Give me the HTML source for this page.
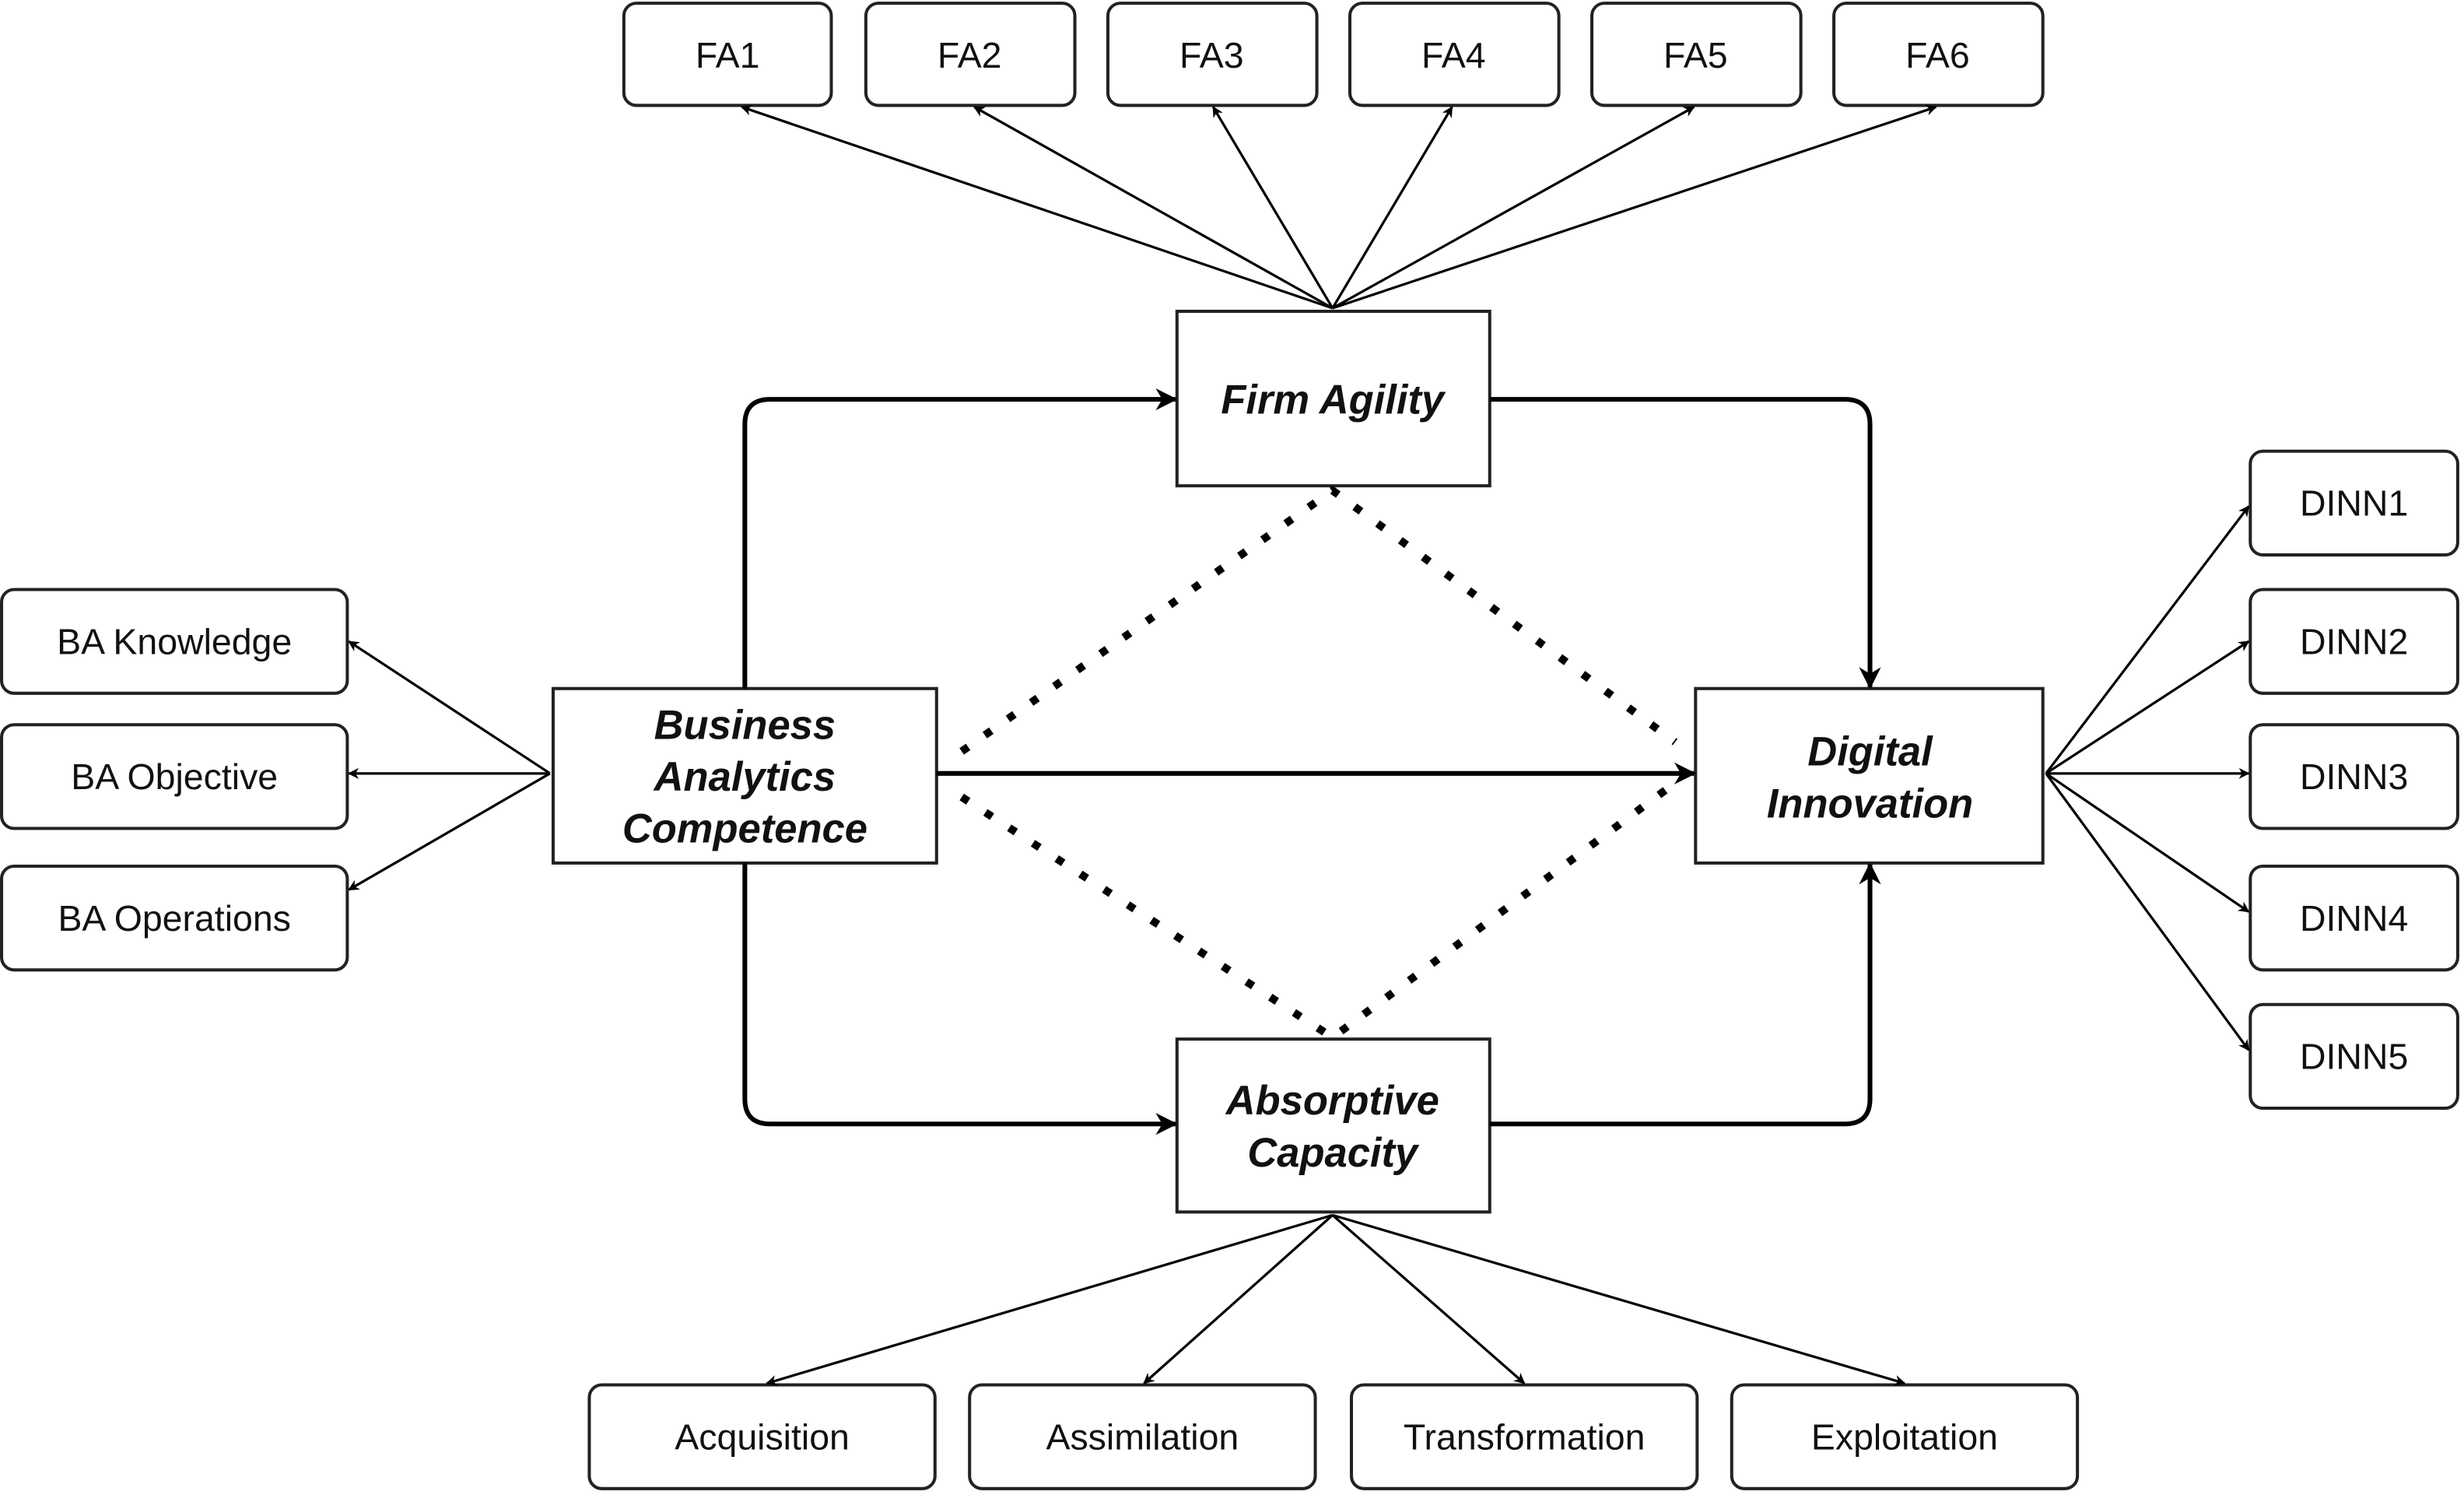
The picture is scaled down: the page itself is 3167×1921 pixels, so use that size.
<!DOCTYPE html>
<html><head><meta charset="utf-8"><style>
html,body{margin:0;padding:0;background:#fff;}
svg{display:block;}
text{font-family:"Liberation Sans",Arial,sans-serif;fill:#111;}
</style></head><body>
<svg width="3167" height="1921" viewBox="0 0 1568 951" xmlns="http://www.w3.org/2000/svg">
<defs>
<marker id="a" viewBox="0 0 10 10" refX="9" refY="5" markerWidth="7" markerHeight="7" orient="auto" markerUnits="userSpaceOnUse"><path d="M0,0 L10,5 L0,10 L3,5z" fill="#000"/></marker>
<marker id="b" viewBox="0 0 10 10" refX="9" refY="5" markerWidth="14" markerHeight="14" orient="auto" markerUnits="userSpaceOnUse"><path d="M0,0 L10,5 L0,10 L3,5z" fill="#000"/></marker>
</defs>
<g fill="#fff" stroke="#222" stroke-width="2">
<rect x="397" y="2" width="132" height="65" rx="8"/>
<rect x="551" y="2" width="133" height="65" rx="8"/>
<rect x="705" y="2" width="133" height="65" rx="8"/>
<rect x="859" y="2" width="133" height="65" rx="8"/>
<rect x="1013" y="2" width="133" height="65" rx="8"/>
<rect x="1167" y="2" width="133" height="65" rx="8"/>
<rect x="1" y="375" width="220" height="66" rx="8"/>
<rect x="1" y="461" width="220" height="66" rx="8"/>
<rect x="1" y="551" width="220" height="66" rx="8"/>
<rect x="1432" y="287" width="132" height="66" rx="8"/>
<rect x="1432" y="375" width="132" height="66" rx="8"/>
<rect x="1432" y="461" width="132" height="66" rx="8"/>
<rect x="1432" y="551" width="132" height="66" rx="8"/>
<rect x="1432" y="639" width="132" height="66" rx="8"/>
<rect x="375" y="881" width="220" height="66" rx="8"/>
<rect x="617" y="881" width="220" height="66" rx="8"/>
<rect x="860" y="881" width="220" height="66" rx="8"/>
<rect x="1102" y="881" width="220" height="66" rx="8"/>
<rect x="749" y="198" width="199" height="111" rx="0"/>
<rect x="352" y="438" width="244" height="111"/>
<rect x="1079" y="438" width="221" height="111"/>
<rect x="749" y="661" width="199" height="110"/>
</g>
<g stroke="#000" stroke-width="1.6" fill="none" marker-end="url(#a)">
<line x1="848" y1="196" x2="472" y2="68"/>
<line x1="848" y1="196" x2="620" y2="68"/>
<line x1="848" y1="196" x2="772" y2="68"/>
<line x1="848" y1="196" x2="924" y2="68"/>
<line x1="848" y1="196" x2="1078" y2="68"/>
<line x1="848" y1="196" x2="1232" y2="68"/>
<line x1="350" y1="492" x2="222" y2="408"/>
<line x1="350" y1="492" x2="222" y2="492"/>
<line x1="350" y1="492" x2="222" y2="566"/>
<line x1="1302" y1="492" x2="1431" y2="322"/>
<line x1="1302" y1="492" x2="1431" y2="408"/>
<line x1="1302" y1="492" x2="1431" y2="492"/>
<line x1="1302" y1="492" x2="1431" y2="580"/>
<line x1="1302" y1="492" x2="1431" y2="668"/>
<line x1="848" y1="773" x2="488" y2="880"/>
<line x1="848" y1="773" x2="728" y2="880"/>
<line x1="848" y1="773" x2="970" y2="880"/>
<line x1="848" y1="773" x2="1212" y2="880"/>
</g>
<g stroke="#000" stroke-width="3" fill="none" marker-end="url(#b)">
<path d="M474,438 V270 Q474,254 490,254 H748"/>
<path d="M948,254 H1174 Q1190,254 1190,270 V437"/>
<path d="M474,549 V699 Q474,715 490,715 H748"/>
<path d="M948,715 H1174 Q1190,715 1190,699 V550"/>
<path d="M596,492 H1078"/>
</g>
<g stroke="#000" stroke-width="5" fill="none" stroke-dasharray="5 13">
<path d="M612,478 L848,312 L1066,472"/>
<path d="M612,507 L848,660 L1066,498"/>
</g>
<g font-size="23" text-anchor="middle">
<text x="463" y="43">FA1</text><text x="617" y="43">FA2</text><text x="771" y="43">FA3</text>
<text x="925" y="43">FA4</text><text x="1079" y="43">FA5</text><text x="1233" y="43">FA6</text>
<text x="111" y="416">BA Knowledge</text><text x="111" y="502">BA Objective</text><text x="111" y="592">BA Operations</text>
<text x="1498" y="328">DINN1</text><text x="1498" y="416">DINN2</text><text x="1498" y="502">DINN3</text>
<text x="1498" y="592">DINN4</text><text x="1498" y="680">DINN5</text>
<text x="485" y="922">Acquisition</text><text x="727" y="922">Assimilation</text>
<text x="970" y="922">Transformation</text><text x="1212" y="922">Exploitation</text>
</g>
<g font-size="26" font-weight="bold" font-style="italic" text-anchor="middle">
<text x="848" y="263">Firm Agility</text>
<text x="474" y="470">Business</text><text x="474" y="503">Analytics</text><text x="474" y="536">Competence</text>
<text x="1190" y="487">Digital</text><text x="1190" y="520">Innovation</text>
<text x="848" y="709">Absorptive</text><text x="848" y="742">Capacity</text>
</g>
</svg>
</body></html>
